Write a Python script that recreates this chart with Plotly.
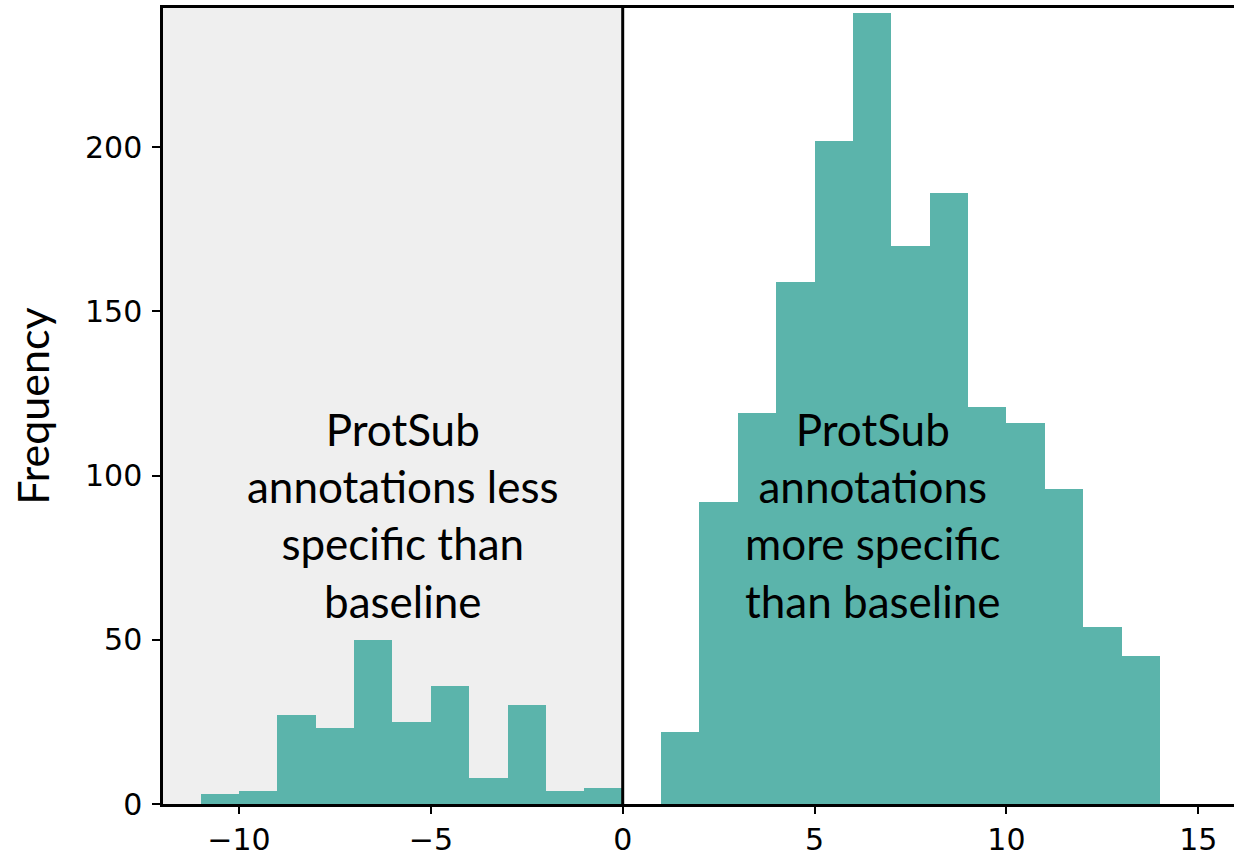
import plotly.graph_objects as go

# Histogram counts per unit-width bin (left edge of each bin)
bin_left = [-11, -10, -9, -8, -7, -6, -5, -4, -3, -2, -1, 0,
            1, 2, 3, 4, 5, 6, 7, 8, 9, 10, 11, 12, 13]
counts = [3, 4, 27, 23, 50, 25, 36, 8, 30, 4, 5, 0,
          22, 92, 119, 159, 202, 241, 170, 186, 121, 116, 96, 54, 45]

x_ticks = [-10, -5, 0, 5, 10, 15]
x_tick_text = ["\u221210", "\u22125", "0", "5", "10", "15"]
y_ticks = [0, 50, 100, 150, 200]

x_range = [-11.98, 15.93]
y_range = [0, 242.4]

left_label = "ProtSub<br>annotations less<br>specific than<br>baseline"
right_label = "ProtSub<br>annotations<br>more specific<br>than baseline"

bar_color = "#5BB4AB"
shade_color = "#EFEFEF"

fig = go.Figure()
fig.add_trace(go.Bar(
    x=[b + 0.5 for b in bin_left],
    y=counts,
    width=[1.0] * len(bin_left),
    marker=dict(color=bar_color, line=dict(width=0)),
    showlegend=False,
))

# shaded region for negative values
fig.add_shape(type="rect", xref="x", yref="y",
              x0=x_range[0], x1=0, y0=y_range[0], y1=y_range[1],
              fillcolor=shade_color, line=dict(width=0), layer="below")
# zero reference line
fig.add_shape(type="line", xref="x", yref="y",
              x0=0, x1=0, y0=y_range[0], y1=y_range[1],
              line=dict(color="black", width=3), layer="above")

label_font = dict(family="Lato, Carlito, sans-serif", size=44, color="black")
fig.add_annotation(x=-5.73, y=88, xref="x", yref="y", text=left_label,
                   showarrow=False, font=label_font, align="center")
fig.add_annotation(x=6.52, y=88, xref="x", yref="y", text=right_label,
                   showarrow=False, font=label_font, align="center")

fig.add_annotation(x=-0.1225, y=0.5, xref="paper", yref="paper",
                   text="Frequency", textangle=-90, showarrow=False,
                   xanchor="center", yanchor="middle",
                   font=dict(family="Lato, Carlito, sans-serif", size=43, color="black"))

axis_font = dict(family="DejaVu Sans", size=30, color="black")
fig.update_layout(
    width=1234, height=860,
    margin=dict(l=163, r=0, t=8, b=56, autoexpand=False),
    plot_bgcolor="white", paper_bgcolor="white",
    bargap=0,
    xaxis=dict(range=x_range, tickmode="array", tickvals=x_ticks,
               ticktext=x_tick_text, ticks="outside", ticklen=7, tickwidth=2,
               tickcolor="black", showline=True, linecolor="black",
               linewidth=2.5, mirror=True, showgrid=False, zeroline=False,
               tickfont=axis_font, ticklabelstandoff=0, automargin=False),
    yaxis=dict(range=y_range, tickmode="array", tickvals=y_ticks,
               ticks="outside", ticklen=8, tickwidth=2, tickcolor="black",
               showline=True, linecolor="black", linewidth=2.5,
               showgrid=False, zeroline=False, tickfont=axis_font,
               ticklabelstandoff=4, automargin=False),
)

fig.write_html("out.html")
